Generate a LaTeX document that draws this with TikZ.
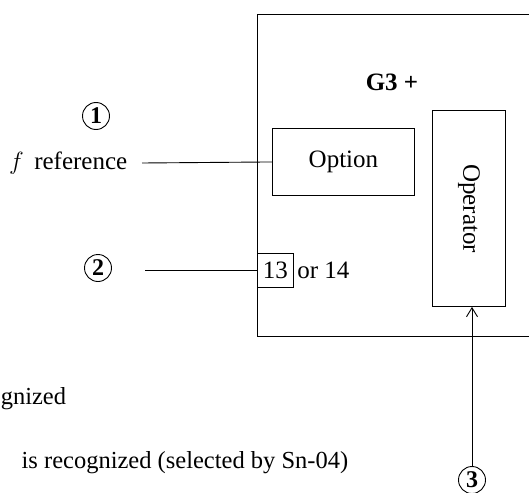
\documentclass[tikz,border=0pt]{standalone}
\usepackage{fontspec}
\setmainfont{Liberation Serif}
\usetikzlibrary{arrows.meta}
\begin{document}
\begin{tikzpicture}[x=1pt, y=-1pt, line width=0.9pt, >={Straight Barb[length=9pt,width=11pt]},
  font=\fontsize{25}{30}\selectfont,
  box/.style={draw, inner sep=0pt},
  num/.style={draw, circle, inner sep=0pt, minimum size=27pt, font=\fontsize{24}{28}\selectfont\bfseries},
  note/.style={font=\fontsize{24.5}{29}\selectfont}]
  \useasboundingbox (0,0) rectangle (529,492);
  \clip (0,0) rectangle (529,492);
  % unit frame, runs off the right edge
  \node[box, anchor=north west, minimum width=300pt, minimum height=322pt] (unit) at (257,14) {};
  \node[font=\fontsize{25}{30}\selectfont\bfseries] (title) at (392,82) {G3 +};
  \node[box, anchor=north west, minimum width=142pt, minimum height=67pt] (option) at (272,128) {Option};
  \node[box, anchor=north west, minimum width=73pt, minimum height=196pt] (oper) at (432,110) {};
  \node[rotate=-90] at (oper.center) {Operator};
  \node[box, anchor=west, minimum width=36pt, minimum height=34pt] (sel) at (257,270) {13};
  \node[anchor=west, inner sep=3pt] (alt) at (sel.east) {or 14};
  % inputs
  \node[num] (n1) at (96,116) {1};
  \node[anchor=east] (fref) at (131,163) {$f$\, reference};
  \coordinate (fin) at (142,163);
  \draw (fin) -- (option.west);
  \node[num] (n2) at (98,268) {2};
  \coordinate (sin) at (145,270);
  \draw (sin) -- (sel.west);
  \node[num] (n3) at (472,480) {3};
  \draw[->] (n3.north) -- (n3.north |- oper.south);
  % notes
  \node[note, anchor=west] (note1) at (-3,399) {gnized};
  \node[note, anchor=east] (note2) at (352,463) {is recognized (selected by Sn-04)};
\end{tikzpicture}
\end{document}
